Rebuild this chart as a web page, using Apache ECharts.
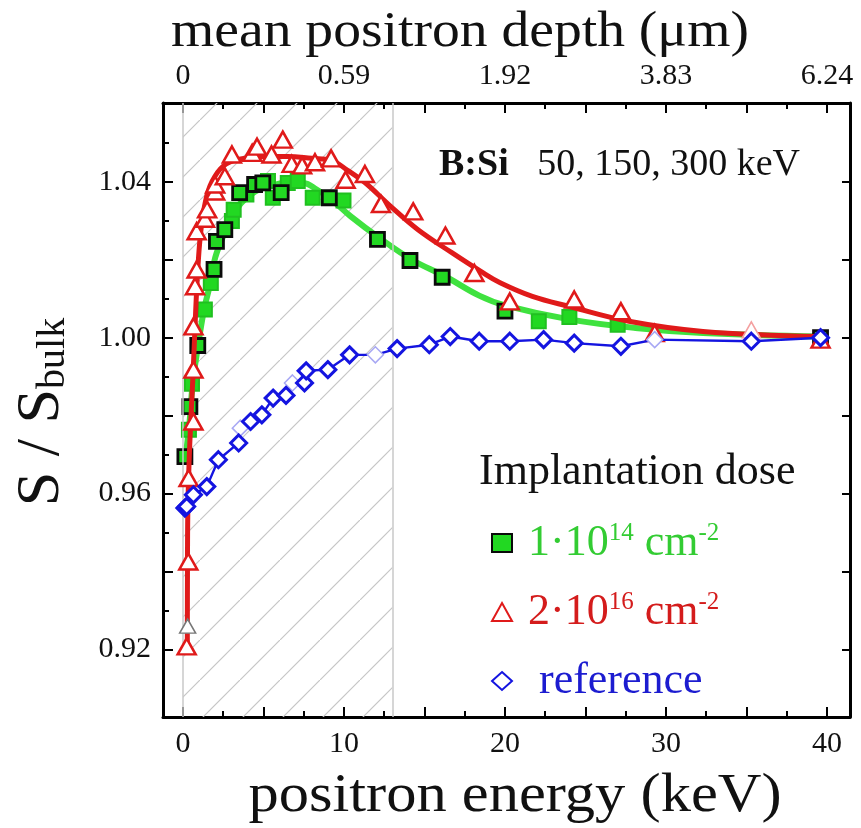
<!DOCTYPE html>
<html><head><meta charset="utf-8">
<script src="https://cdn.jsdelivr.net/npm/echarts@6/dist/echarts.min.js"></script>
<style>html,body{margin:0;padding:0;background:#fff}#c{width:861px;height:828px}</style>
</head><body><div id="c"></div>
<script>
// ---------------- data ----------------
const energyLabelTicks = [0, 10, 20, 30, 40];
const depthTickLabels = ['0', '0.59', '1.92', '3.83', '6.24'];
const xMajorTicks = [0, 5, 10, 15, 20, 25, 30, 35, 40];
const xMinorTicks = [2.5, 7.5, 12.5, 17.5, 22.5, 27.5, 32.5, 37.5];
const yLabelTicks = [0.92, 0.96, 1.00, 1.04];
const yMajorTicks = [0.92, 0.94, 0.96, 0.98, 1.00, 1.02, 1.04];
const yMinorTicks = [0.93, 0.95, 0.97, 0.99, 1.01, 1.03, 1.05];
const hatchRange = [0, 13];

// 1e14 cm^-2 (green squares, dark-edged and green-edged runs)
const greenDarkPts = [[0.12,0.9695],[0.43,0.9823],[0.92,0.998],[1.93,1.0175],[2.08,1.0247],[2.6,1.0277],[3.52,1.0372],[4.45,1.0393],[4.96,1.0397],[6.1,1.0372],[9.09,1.0359],[12.08,1.0252],[14.1,1.0198],[16.1,1.0155],[20.0,1.0068],[39.6,1.0]];
const greenLightPts = [[0.37,0.9764],[0.56,0.9882],[1.36,1.0072],[1.73,1.014],[3.04,1.0299],[3.15,1.0328],[3.94,1.0367],[5.28,1.0402],[5.58,1.0359],[6.51,1.0397],[7.13,1.0402],[8.06,1.0359],[9.97,1.0352],[22.1,1.0042],[24.0,1.0053],[27.0,1.0033]];
const greenFit = [[0.12,0.968],[0.4,0.978],[0.6,0.988],[0.9,0.997],[1.3,1.007],[1.7,1.014],[2.0,1.0205],[2.6,1.027],[3.1,1.031],[3.6,1.0345],[4.5,1.0375],[5.5,1.039],[6.5,1.0398],[7.5,1.0397],[8.3,1.038],[9.2,1.0355],[10.4,1.0312],[12.2,1.0256],[14.3,1.0198],[16.3,1.0157],[18.4,1.0108],[20.0,1.0083],[24.0,1.0047],[28.1,1.0025],[32.3,1.0012],[39.6,1.0003]];

// 2e16 cm^-2 (red triangles)
const redPts = [[0.23,0.9208],[0.33,0.9426],[0.35,0.964],[0.65,0.9785],[0.65,0.9918],[0.65,1.0029],[0.75,1.0132],[0.85,1.0175],[0.85,1.0273],[1.37,1.0305],[1.5,1.0329],[2.0,1.0375],[2.0,1.0393],[2.6,1.0414],[3.04,1.047],[4.3,1.0474],[4.6,1.049],[5.5,1.047],[6.2,1.0508],[6.75,1.0446],[7.4,1.0442],[8.2,1.045],[9.2,1.046],[10.1,1.0405],[11.3,1.042],[12.3,1.0343],[14.3,1.0324],[16.3,1.0262],[18.1,1.0166],[20.3,1.0093],[24.3,1.0098],[27.2,1.0068],[29.3,1.0012],[39.6,0.9995]];
const redGreyPts = [[0.29,0.926]];
const redLightPts = [[35.3,1.002]];
const redFit = [[0.27,0.920],[0.28,0.94],[0.3,0.955],[0.38,0.968],[0.5,0.98],[0.62,0.99],[0.75,1.003],[0.9,1.016],[1.1,1.027],[1.4,1.035],[1.8,1.040],[2.5,1.044],[3.5,1.0458],[5.0,1.0465],[6.5,1.0465],[8.0,1.046],[9.2,1.0455],[10.2,1.043],[11.3,1.0398],[12.9,1.0337],[14.6,1.0277],[16.7,1.0218],[18.5,1.017],[19.7,1.0141],[21.7,1.0106],[24.0,1.008],[27.7,1.0042],[32.3,1.0016],[39.6,1.0003]];

// reference (blue diamonds)
const bluePts = [[0.12,0.9563],[0.23,0.9567],[0.65,0.9597],[1.48,0.9618],[2.2,0.9687],[3.46,0.973],[4.2,0.9785],[4.9,0.9802],[5.6,0.9845],[6.4,0.9852],[7.55,0.9884],[7.65,0.9915],[9.0,0.9918],[10.35,0.9956],[13.3,0.9972],[15.3,0.9982],[16.6,1.0003],[18.4,0.9991],[20.3,0.9991],[22.4,0.9995],[24.3,0.9986],[27.2,0.9978],[35.3,0.9991],[39.6,1.0]];
const blueLightPts = [[3.56,0.9768],[6.8,0.9884],[11.95,0.9956],[29.3,0.9995]];

// ---------------- chart ----------------
const FONT = '"Liberation Serif", "DejaVu Serif", serif';
const GREEN = '#22d822', GREENLINE = '#3fe23f', RED = '#e01a1a', BLUE = '#1414e0';
const X_MIN = -1.24, X_MAX = 41.43, Y_MIN = 0.9027, Y_MAX = 1.0602;

const pc = document.createElement('canvas');
pc.width = 40; pc.height = 40;
const pctx = pc.getContext('2d');
pctx.strokeStyle = '#c6c6c6'; pctx.lineWidth = 1.2;
pctx.beginPath(); pctx.moveTo(-2, 42); pctx.lineTo(42, -2); pctx.stroke();

const blueLine = bluePts.concat(blueLightPts).sort((a, b) => a[0] - b[0]);

function xAx(pos, ticks, len, labels) {
  return {
    type: 'value', position: pos, min: X_MIN, max: X_MAX,
    axisLine: { show: !!labels, onZero: false, lineStyle: { color: '#000', width: 3 } },
    axisTick: { show: true, inside: true, length: len, customValues: ticks, lineStyle: { color: '#000', width: 2 } },
    axisLabel: labels ? {
      show: true, customValues: energyLabelTicks, margin: 12,
      fontFamily: FONT, fontSize: 30, color: '#111',
      formatter: labels
    } : { show: false },
    splitLine: { show: false }
  };
}
function yAx(pos, ticks, len, labels, line) {
  return {
    type: 'value', position: pos, min: Y_MIN, max: Y_MAX,
    axisLine: { show: line, onZero: false, lineStyle: { color: '#000', width: 3 } },
    axisTick: { show: true, inside: true, length: len, customValues: ticks, lineStyle: { color: '#000', width: 2 } },
    axisLabel: labels ? {
      show: true, customValues: yLabelTicks, margin: 12,
      fontFamily: FONT, fontSize: 30, color: '#111',
      formatter: v => v.toFixed(2)
    } : { show: false },
    splitLine: { show: false }
  };
}

const chart = echarts.init(document.getElementById('c'), null, { renderer: 'canvas' });
chart.setOption({
  animation: false,
  backgroundColor: '#fff',
  grid: { left: 163, right: 11, top: 103, bottom: 111, containLabel: false },
  xAxis: [
    xAx('bottom', xMajorTicks, 10, v => String(v)),
    xAx('bottom', xMinorTicks, 6, null),
    xAx('top', xMajorTicks, 10, v => depthTickLabels[energyLabelTicks.indexOf(v)]),
    xAx('top', xMinorTicks, 6, null)
  ],
  yAxis: [
    yAx('left', yMajorTicks, 10, true, true),
    yAx('left', yMinorTicks, 6, false, false),
    yAx('right', yMajorTicks, 8, false, true)
  ],
  legend: {
    orient: 'vertical', left: 486, top: 516, itemGap: 22, itemWidth: 20, itemHeight: 18,
    selectedMode: false,
    data: [
      { name: 'g', textStyle: { color: '#33cc33' } },
      { name: 'r', textStyle: { color: '#d41c1c' } },
      { name: 'b', textStyle: { color: '#1c1cd0' } }
    ],
    formatter: n => ({ g: ' 1·10{sup|14} cm{sup|-2}', r: ' 2·10{sup|16} cm{sup|-2}', b: '  reference' })[n],
    textStyle: {
      fontFamily: FONT, fontSize: 44, lineHeight: 44,
      rich: { sup: { fontFamily: FONT, fontSize: 25, verticalAlign: 'top', lineHeight: 44, padding: [0, 0, 22, 0] } }
    }
  },
  graphic: [
    { type: 'text', x: 460, y: 33, scaleX: 1.09, style: { text: 'mean positron depth (μm)', font: '51px "Liberation Serif"', fill: '#111', align: 'center', verticalAlign: 'middle' } },
    { type: 'text', x: 515, y: 797, scaleX: 1.1, style: { text: 'positron energy (keV)', font: '55px "Liberation Serif"', fill: '#111', align: 'center', verticalAlign: 'middle' } },
    { type: 'text', x: 42, y: 412, rotation: Math.PI / 2, style: {
        text: 'S / S{sub|bulk}', fill: '#111', align: 'center', verticalAlign: 'middle',
        fontFamily: FONT, fontSize: 62,
        rich: { sub: { fontFamily: FONT, fontSize: 40, fill: '#111', verticalAlign: 'bottom', padding: [20, 0, 0, 0] } } } },
    { type: 'text', x: 439, y: 165, style: {
        text: '{b|B:Si}   50, 150, 300 keV', fill: '#111', verticalAlign: 'middle',
        fontFamily: FONT, fontSize: 38,
        rich: { b: { fontFamily: FONT, fontSize: 38, fontWeight: 'bold', fill: '#111' } } } },
    { type: 'text', x: 479, y: 472, style: { text: 'Implantation dose', font: '44px "Liberation Serif"', fill: '#111', verticalAlign: 'middle' } }
  ],
  series: [
    {
      name: 'hatch', type: 'line', data: [], z: 1, silent: true,
      markArea: { silent: true, itemStyle: { color: { image: pc, repeat: 'repeat' } },
        data: [[{ xAxis: hatchRange[0] }, { xAxis: hatchRange[1] }]] },
      markLine: { silent: true, symbol: 'none', label: { show: false },
        lineStyle: { color: '#c8c8c8', width: 1.5, type: 'solid' },
        data: [{ xAxis: hatchRange[0] }, { xAxis: hatchRange[1] }] }
    },
    { name: 'gfit', type: 'line', data: greenFit, smooth: 0.4, symbol: 'none', z: 3,
      lineStyle: { color: GREENLINE, width: 6 } },
    { name: 'glight', type: 'scatter', data: greenLightPts, symbol: 'rect', symbolSize: 14, z: 4,
      itemStyle: { color: GREEN, borderColor: '#20c020', borderWidth: 2, opacity: 1 } },
    { name: 'g', type: 'scatter', data: greenDarkPts, symbol: 'rect', symbolSize: 14, z: 4,
      itemStyle: { color: GREEN, borderColor: '#0a0a0a', borderWidth: 2.8, opacity: 1 } },
    { name: 'rfit', type: 'line', data: redFit, smooth: 0.4, symbol: 'none', z: 5,
      lineStyle: { color: RED, width: 5 } },
    { name: 'r', type: 'scatter', data: redPts, symbol: 'triangle', symbolSize: [18, 16], z: 6,
      itemStyle: { color: '#fff', borderColor: RED, borderWidth: 2.5, opacity: 1 } },
    { name: 'rgrey', type: 'scatter', data: redGreyPts, symbol: 'triangle', symbolSize: [16, 14], z: 6,
      itemStyle: { color: '#fff', borderColor: '#777', borderWidth: 1.5, opacity: 1 } },
    { name: 'rlight', type: 'scatter', data: redLightPts, symbol: 'triangle', symbolSize: [18, 16], z: 6,
      itemStyle: { color: '#fff', borderColor: '#f4a0a0', borderWidth: 1.5, opacity: 1 } },
    { name: 'bline', type: 'line', data: blueLine, symbol: 'none', z: 7,
      lineStyle: { color: BLUE, width: 2.4 } },
    { name: 'blight', type: 'scatter', data: blueLightPts, symbol: 'diamond', symbolSize: [16, 16], z: 8,
      itemStyle: { color: '#fff', borderColor: '#a8a8f4', borderWidth: 1.5, opacity: 1 } },
    { name: 'b', type: 'scatter', data: bluePts, symbol: 'diamond', symbolSize: [16, 16], z: 8,
      itemStyle: { color: '#fff', borderColor: BLUE, borderWidth: 3, opacity: 1 } }
  ]
});
</script></body></html>
